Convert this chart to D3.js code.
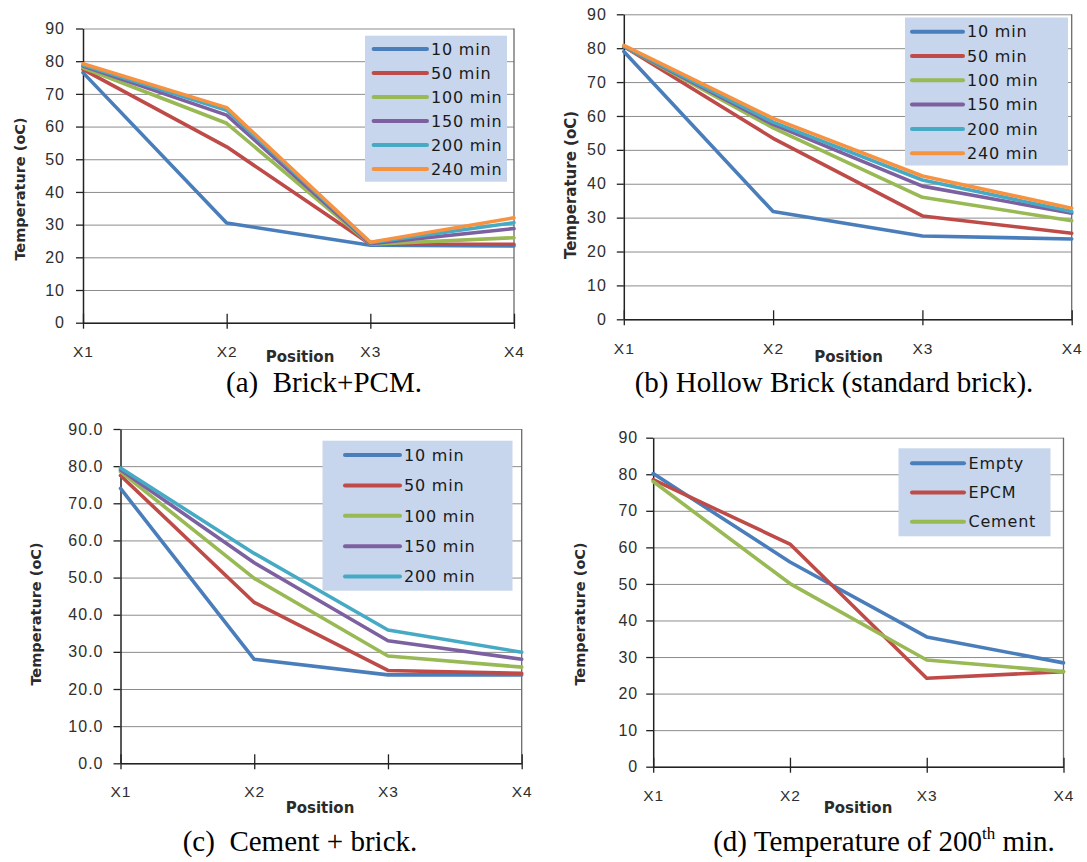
<!DOCTYPE html>
<html>
<head>
<meta charset="utf-8">
<script src="https://cdn.jsdelivr.net/npm/d3@7"></script>
<style>
  body { margin: 0; background: #fff; }
  svg { display: block; font-family: "DejaVu Sans", sans-serif; }
</style>
</head>
<body>
<div id="viz-container"></div>
<script>
// DATA
const positions = ["X1", "X2", "X3", "X4"];
const yTicks = [0, 10, 20, 30, 40, 50, 60, 70, 80, 90];

const timesAB = ["10 min", "50 min", "100 min", "150 min", "200 min", "240 min"];
const timesC = ["10 min", "50 min", "100 min", "150 min", "200 min"];
const materials = ["Empty", "EPCM", "Cement"];

// (a) Brick+PCM
const brickPcm = [
  [76.5, 30.5, 23.7, 23.5],
  [77.5, 53.8, 24.0, 24.0],
  [78.0, 61.0, 24.0, 26.0],
  [78.5, 63.5, 24.2, 28.8],
  [78.8, 65.0, 24.5, 30.6],
  [79.2, 65.8, 24.6, 32.1]
];
// (b) Hollow brick
const hollowBrick = [
  [79.0, 31.8, 24.6, 23.7],
  [80.5, 53.4, 30.5, 25.4],
  [80.5, 56.5, 36.0, 29.1],
  [80.5, 57.5, 39.3, 31.3],
  [80.6, 58.2, 41.1, 31.8],
  [80.8, 59.3, 42.3, 32.8]
];
// (c) Cement + brick
const cementBrick = [
  [74.0, 28.0, 23.8, 23.8],
  [77.5, 43.3, 25.0, 24.2],
  [78.5, 49.8, 28.9, 25.9],
  [79.0, 54.0, 33.0, 28.0],
  [79.5, 56.5, 35.9, 29.9]
];
// (d) 200th min
const at200min = [
  [80.2, 56.0, 35.5, 28.4],
  [78.5, 60.9, 24.2, 26.0],
  [78.0, 50.1, 29.2, 26.0]
];

const COLORS = ["#4a7ebb", "#be4b48", "#98b954", "#7d60a0", "#46aac5", "#f69240"];

// LAYOUT
const PANELS = [
  { id: "a", names: timesAB, values: brickPcm, fmt: d3.format("d"),
    x0: 83, x1: 514, yTop: 28.5, yBot: 322.7, yPad: 11,
    xLabY: 357, posX: 300, posY: 362, titX: 20, titY: 189, titSize: 14.5,
    leg: { x: 365, y: 35.7, w: 142, h: 146, row0: 49, rowH: 24, l0: 373.6, l1: 427, tx: 431 },
    cap: ["(a)\u00a0\u00a0Brick+PCM."], capX: 324, capY: 392 },
  { id: "b", names: timesAB, values: hollowBrick, fmt: d3.format("d"),
    x0: 623.8, x1: 1071.7, yTop: 14.3, yBot: 319.3, yPad: 10,
    xLabY: 354, posX: 848.5, posY: 362, titX: 571, titY: 185, titSize: 15,
    leg: { x: 905, y: 17.5, w: 163, h: 148, row0: 31.7, rowH: 24.3, l0: 912, l1: 963, tx: 967 },
    cap: ["(b) Hollow Brick (standard brick)."], capX: 834, capY: 392 },
  { id: "c", names: timesC, values: cementBrick, fmt: d3.format(".1f"),
    x0: 120.5, x1: 521.7, yTop: 429, yBot: 763.3, yPad: 10,
    xLabY: 797, posX: 320, posY: 813, titX: 36, titY: 614, titSize: 14.5,
    leg: { x: 322.5, y: 440.7, w: 190, h: 150, row0: 455, rowH: 30.4, l0: 345, l1: 400, tx: 404 },
    cap: ["(c)\u00a0\u00a0Cement + brick."], capX: 300, capY: 851 },
  { id: "d", names: materials, values: at200min, fmt: d3.format("d"),
    x0: 653.2, x1: 1063.5, yTop: 437.7, yBot: 766.7, yPad: 8,
    xLabY: 801, posX: 858, posY: 813, titX: 580, titY: 614, titSize: 14.5,
    leg: { x: 898.5, y: 448.3, w: 152, h: 88, row0: 463.3, rowH: 29.2, l0: 912, l1: 964, tx: 968.5 },
    cap: ["(d) Temperature of 200", "th", " min."], capX: 884, capY: 851 }
];

const svg = d3.select("#viz-container").append("svg")
  .attr("width", 1087)
  .attr("height", 862);

const drawPanel = (p) => {
  const g = svg.append("g").attr("id", `panel_${p.id}`);
  const x = d3.scalePoint().domain(positions).range([p.x0, p.x1]);
  const y = d3.scaleLinear().domain([0, 90]).range([p.yBot, p.yTop]);

  // gridlines
  g.append("g")
    .attr("transform", `translate(${p.x0},0)`)
    .call(d3.axisLeft(y).tickValues(yTicks).tickSize(-(p.x1 - p.x0)).tickFormat(""))
    .call(s => s.select(".domain").remove())
    .selectAll("line").attr("stroke", "#8c8c8c").attr("stroke-width", 1);

  // plot border (right side)
  g.append("line")
    .attr("x1", p.x1).attr("x2", p.x1)
    .attr("y1", p.yTop).attr("y2", p.yBot)
    .attr("stroke", "#6a6a6a").attr("stroke-width", 1.3);

  // y axis
  const yAxis = g.append("g")
    .attr("transform", `translate(${p.x0},0)`)
    .call(d3.axisLeft(y).tickValues(yTicks).tickSize(7).tickSizeOuter(0).tickPadding(p.yPad).tickFormat(p.fmt));
  yAxis.select(".domain").attr("stroke", "#222").attr("stroke-width", 1.5);
  yAxis.selectAll(".tick line").attr("stroke", "#222").attr("stroke-width", 1.3);
  yAxis.selectAll("text")
    .attr("fill", "#2e2e2e")
    .style("font-size", "16px")
    .style("letter-spacing", "1px");

  // x axis
  const xAxis = g.append("g")
    .attr("transform", `translate(0,${p.yBot})`)
    .call(d3.axisBottom(x).tickSize(6).tickSizeOuter(0));
  xAxis.select(".domain").attr("stroke", "#222").attr("stroke-width", 1.5);
  xAxis.selectAll(".tick line").attr("y1", -9).attr("stroke", "#222").attr("stroke-width", 1.3);
  xAxis.selectAll("text")
    .attr("y", p.xLabY - p.yBot).attr("dy", 0)
    .attr("fill", "#2e2e2e")
    .style("font-size", "15.5px")
    .style("letter-spacing", "1px");

  // series
  const line = d3.line()
    .x((_, i) => x(positions[i]))
    .y(d => y(d));

  g.selectAll("path.series")
    .data(p.values)
    .join("path")
    .attr("class", "series")
    .attr("d", line)
    .attr("fill", "none")
    .attr("stroke", (_, i) => COLORS[i])
    .attr("stroke-width", 3.6)
    .attr("stroke-linejoin", "round")
    .attr("stroke-linecap", "round");

  // legend
  const lg = g.append("g").attr("class", "legend");
  lg.append("rect")
    .attr("x", p.leg.x).attr("y", p.leg.y)
    .attr("width", p.leg.w).attr("height", p.leg.h)
    .attr("fill", "#c7d6ec");
  const rows = lg.selectAll("g.row")
    .data(p.names)
    .join("g")
    .attr("class", "row")
    .attr("transform", (_, i) => `translate(0,${p.leg.row0 + i * p.leg.rowH})`);
  rows.append("line")
    .attr("x1", p.leg.l0).attr("x2", p.leg.l1)
    .attr("stroke", (_, i) => COLORS[i])
    .attr("stroke-width", 4)
    .attr("stroke-linecap", "round");
  rows.append("text")
    .attr("x", p.leg.tx)
    .attr("dy", "0.36em")
    .attr("fill", "#1a1a1a")
    .style("font-size", "16px")
    .style("letter-spacing", "0.8px")
    .text(d => d);

  // axis titles
  g.append("text")
    .attr("x", p.posX).attr("y", p.posY)
    .attr("text-anchor", "middle")
    .attr("fill", "#2b2b2b")
    .style("font-size", "15px").style("font-weight", "bold")
    .text("Position");

  g.append("text")
    .attr("transform", `translate(${p.titX},${p.titY}) rotate(-90)`)
    .attr("text-anchor", "middle")
    .attr("dy", "0.36em")
    .attr("fill", "#2b2b2b")
    .style("font-size", `${p.titSize}px`).style("font-weight", "bold")
    .text("Temperature (oC)");

  // caption
  const cap = g.append("text")
    .attr("x", p.capX).attr("y", p.capY)
    .attr("text-anchor", "middle")
    .attr("fill", "#000")
    .style("font-family", "'Liberation Serif', 'Times New Roman', serif")
    .style("font-size", "29px");
  cap.append("tspan").text(p.cap[0]);
  if (p.cap.length > 1) {
    cap.append("tspan").attr("dy", -12).style("font-size", "17px").text(p.cap[1]);
    cap.append("tspan").attr("dy", 12).text(p.cap[2]);
  }
};

PANELS.forEach(drawPanel);
</script>
</body>
</html>
